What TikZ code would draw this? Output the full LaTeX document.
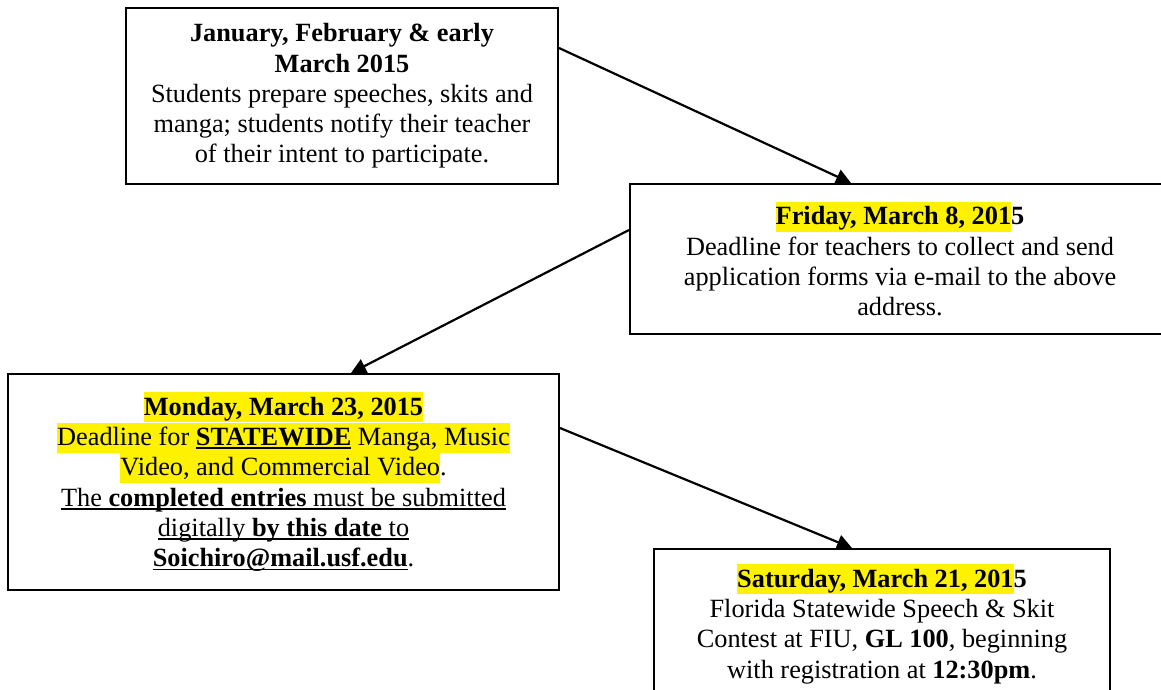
\documentclass[tikz,border=0pt]{standalone}
\usepackage{fontspec}
\setmainfont{Liberation Serif}
\usepackage{xcolor}
\usetikzlibrary{arrows.meta}

\newcommand{\hlt}[1]{{\setlength{\fboxsep}{0pt}\colorbox{yellow}{\rule[-7pt]{0pt}{30pt}#1}}}
\newsavebox{\ulinbox}
\newcommand{\ulin}[1]{\sbox{\ulinbox}{#1}\rlap{\rule[-3.5pt]{\wd\ulinbox}{1.6pt}}\usebox{\ulinbox}}

\begin{document}
\begin{tikzpicture}[
    x=1pt, y=-1pt,
    box/.style={rectangle, draw=black, line width=2pt, inner sep=0pt,
                align=center, font=\fontsize{26.3}{30.3}\selectfont}
]

\useasboundingbox (0,0) rectangle (1161,690);

% Preparation
\node[box, minimum width=432, minimum height=176] (prep) at (342, 96) {
    \textbf{January, February \& early}\\
    \textbf{March 2015}\\
    Students prepare speeches, skits and\\
    manga; students notify their teacher\\
    of their intent to participate.
};

% Application deadline
\node[box, minimum width=540, minimum height=150] (apply) at (900, 259) {
    \textbf{\hlt{Friday, March 8, 201}5}\\
    Deadline for teachers to collect and send\\
    application forms via e-mail to the above\\
    address.
};

% Statewide entries
\node[box, minimum width=551, minimum height=216] (entries) at (283.5, 482) {
    \hlt{\textbf{Monday, March 23, 2015}}\\
    \hlt{Deadline for \ulin{\textbf{STATEWIDE}} Manga, Music}\\
    \hlt{Video, and Commercial Video}.\\
    \ulin{The \textbf{completed entries} must be submitted}\\
    \ulin{digitally \textbf{by this date} to}\\
    \ulin{\textbf{Soichiro@mail.usf.edu}}.
};

% Contest
\node[box, minimum width=456, minimum height=150] (contest) at (882, 624) {
    \textbf{\hlt{Saturday, March 21, 201}5}\\
    Florida Statewide Speech \& Skit\\
    Contest at FIU, \textbf{GL 100}, beginning\\
    with registration at \textbf{12:30pm}.
};

% Arrows
\draw[->, >={Triangle[length=15pt, width=15pt]}, line width=2.2pt]
    ([yshift=-41pt]prep.north east) -- ([xshift=222pt]apply.north west);
\draw[->, >={Triangle[length=15pt, width=15pt]}, line width=2.2pt]
    ([yshift=-47pt]apply.north west) -- ([xshift=344pt]entries.north west);
\draw[->, >={Triangle[length=15pt, width=15pt]}, line width=2.2pt]
    ([yshift=-55pt]entries.north east) -- ([xshift=199pt]contest.north west);

\end{tikzpicture}
\end{document}
